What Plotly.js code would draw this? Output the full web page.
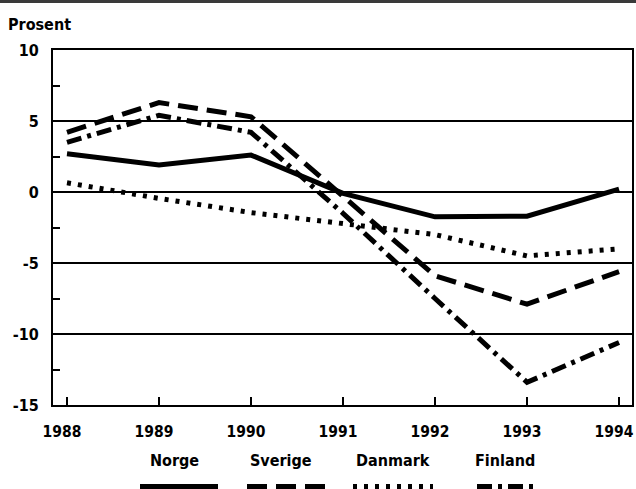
<!DOCTYPE html>
<html>
<head>
<meta charset="utf-8">
<script src="https://cdn.plot.ly/plotly-3.0.1.min.js"></script>
<style>html,body{margin:0;padding:0;background:#fff;}#chart{width:636px;height:489px;}</style>
</head>
<body>
<div id="chart"></div>
<script>
// ---- data ----
var years   = [1988, 1989, 1990, 1991, 1992, 1993, 1994];
var norge   = [2.7, 1.9, 2.6, -0.1, -1.75, -1.7, 0.2];
var sverige = [4.2, 6.3, 5.3, -0.3, -5.9, -7.9, -5.6];
var danmark = [0.65, -0.45, -1.45, -2.2, -3.0, -4.5, -4.0];
var finland = [3.5, 5.4, 4.2, -1.5, -7.5, -13.4, -10.6];
var seriesNames = ["Norge", "Sverige", "Danmark", "Finland"];
var xTickText = ["1988", "1989", "1990", "1991", "1992", "1993", "1994"];
var yTickVals = [-15, -10, -5, 0, 5, 10];
var yTickText = ["-15", "-10", "-5", "0", "5", "10"];

// ---- layout geometry ----
var W = 636, H = 489;
var mL = 53, mR = 4, mT = 50, mB = 84;
var pw = W - mL - mR, ph = H - mT - mB;
function px(x) { return (x - mL) / pw; }
function py(y) { return (H - mB - y) / ph; }

var FONT = "'DejaVu Sans Condensed', 'Liberation Sans Narrow', Arial, sans-serif";
var FS = 16;
var FW = "bold";
var styles = [
  {dash: "solid", width: 5},
  {dash: "20px,9px", width: 5},
  {dash: "4px,7px", width: 5},
  {dash: "15px,6px,4px,6px", width: 5}
];
var data = [norge, sverige, danmark, finland];

var traces = data.map(function (vals, i) {
  return {
    x: years, y: vals, name: seriesNames[i], type: "scatter", mode: "lines",
    line: {color: "#000", width: styles[i].width, dash: styles[i].dash},
    showlegend: false, hoverinfo: "skip"
  };
});

// custom legend: labels above thick line samples (cut at bottom edge)
var legendX = [[140, 218], [247, 330], [353, 433], [477, 535]];
var legendLabelX = [174, 281, 393, 505];
var annotations = seriesNames.map(function (n, i) {
  return {
    text: n, xref: "paper", yref: "paper", x: px(legendLabelX[i]), y: py(460),
    xanchor: "center", yanchor: "middle", showarrow: false,
    font: {family: FONT, size: FS, weight: FW, color: "#000"}
  };
});
var shapes = seriesNames.map(function (n, i) {
  return {
    type: "line", xref: "paper", yref: "paper",
    x0: px(legendX[i][0]), x1: px(legendX[i][1]), y0: py(487), y1: py(487),
    line: {color: "#000", width: 6, dash: styles[i].dash}
  };
});
// dark scanned band at top edge
shapes.push({
  type: "rect", xref: "paper", yref: "paper",
  x0: px(0), x1: px(W), y0: py(3), y1: py(0),
  line: {width: 0}, fillcolor: "#3a3a3a"
});

var tf = {family: FONT, size: FS, weight: FW, color: "#000"};
var layout = {
  width: W, height: H,
  margin: {l: mL, r: mR, t: mT, b: mB, pad: 0},
  paper_bgcolor: "#fff", plot_bgcolor: "#fff",
  font: tf,
  title: {
    text: "Prosent", xref: "container", yref: "container",
    x: 8 / W, xanchor: "left", y: 1 - 24 / H, yanchor: "middle",
    font: tf
  },
  xaxis: {
    range: [1987.848, 1994.141], tickmode: "array", tickvals: years,
    ticktext: xTickText,
    ticks: "inside", ticklen: 8, tickwidth: 2, tickcolor: "#000",
    showline: true, linewidth: 2, linecolor: "#000", mirror: true,
    showgrid: false, zeroline: false, ticklabelstandoff: 11,
    ticklabelshift: -5,
    ticklabeloverflow: "allow",
    tickfont: {family: FONT, size: 15.5, weight: FW, color: "#000"}
  },
  yaxis: {
    range: [-15, 10], tickmode: "array", tickvals: yTickVals, ticktext: yTickText,
    ticks: "inside", ticklen: 7, tickwidth: 2, tickcolor: "#000",
    minor: {dtick: 2.5, tick0: 0, ticks: "inside", ticklen: 7, tickwidth: 2, tickcolor: "#000", showgrid: false},
    showline: true, linewidth: 2, linecolor: "#000", mirror: true,
    showgrid: true, gridcolor: "#000", gridwidth: 2, zeroline: false,
    ticklabelstandoff: 9,
    tickfont: tf
  },
  annotations: annotations,
  shapes: shapes,
  showlegend: false
};

Plotly.newPlot("chart", traces, layout, {staticPlot: true, displayModeBar: false});
</script>
</body>
</html>
